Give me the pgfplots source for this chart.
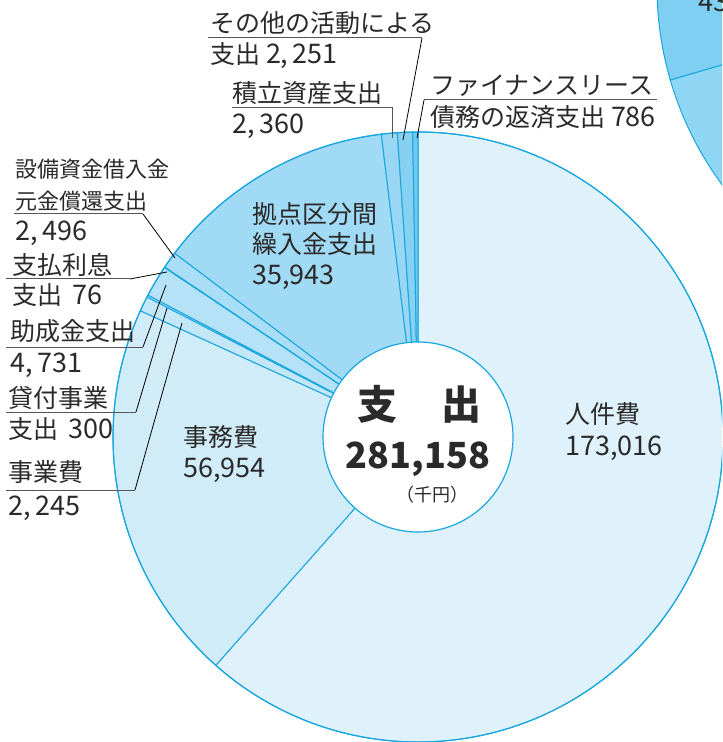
\documentclass[border=0pt]{standalone}
\usepackage{pgfplots}
\pgfplotsset{compat=1.18}
\usepackage{pgfplotstable}
\usepackage{fontspec}
\setmainfont{Noto Sans CJK JP}
\definecolor{edge}{HTML}{1AA7E0}
\definecolor{txt}{HTML}{2A2A2A}
\definecolor{uline}{HTML}{555555}
\definecolor{c1}{HTML}{DFF2FB}
\definecolor{c2}{HTML}{D1ECF9}
\definecolor{c3}{HTML}{C4E7F8}
\definecolor{c4}{HTML}{BDE5F8}
\definecolor{c5}{HTML}{B5E2F7}
\definecolor{c6}{HTML}{B0E0F7}
\definecolor{c7}{HTML}{AADEF6}
\definecolor{c8}{HTML}{A1DAF5}
\definecolor{c9}{HTML}{98D6F3}
\definecolor{c10}{HTML}{86D0F2}
\definecolor{c11}{HTML}{6ECAF0}
\definecolor{p1}{HTML}{7ECFF2}
\definecolor{p2}{HTML}{8FD6F5}

\pgfplotstableread{
value color
173016 c1
56954 c2
2245 c3
300 c4
4731 c5
76 c6
2496 c7
35943 c8
2360 c9
2251 c10
786 c11
}\piedata

\newcommand\lf{\fontsize{12.5}{15}\selectfont}
\newcommand\nf{\fontsize{13.5}{15}\selectfont}
\newcommand\lab[3]{\node[anchor=base west, inner sep=0pt, text=txt, font=\lf] at (axis cs:#1,#2) {#3};}
\newcommand\labn[3]{\node[anchor=base west, inner sep=0pt, text=txt, font=\nf] at (axis cs:#1,#2) {#3};}
\newcommand\labs[3]{\node[anchor=base west, inner sep=0pt, text=txt, font=\fontsize{11}{13}\selectfont] at (axis cs:#1,#2) {#3};}

\begin{document}
\begin{tikzpicture}
\begin{axis}[x=0.5pt, y=0.5pt, xmin=0, xmax=722, ymin=0, ymax=742,
  y dir=reverse, hide axis, clip=true]
\coordinate (bl) at (rel axis cs:0,0);
\coordinate (tr) at (rel axis cs:1,1);
% second (partial) pie at top right
\fill[p2, draw=edge, line width=0.5pt] (axis cs:990,-13) -- +(196.2:166.5pt) arc[start angle=196.2, end angle=265, radius=166.5pt] -- cycle;
\fill[p1, draw=edge, line width=0.5pt] (axis cs:990,-13) -- +(130:166.5pt) arc[start angle=130, end angle=196.2, radius=166.5pt] -- cycle;
\node[anchor=base west, inner sep=0pt, text=txt, font=\nf] at (axis cs:698,12) {43,};
% main pie
\def\cumA{0}
\pgfplotsforeachungrouped \i in {0,...,10}{%
  \pgfplotstablegetelem{\i}{value}\of\piedata \let\v\pgfplotsretval
  \pgfplotstablegetelem{\i}{color}\of\piedata \let\col\pgfplotsretval
  \edef\sa{\fpeval{90-360*\cumA/281158}}%
  \edef\cumA{\fpeval{\cumA+\v}}%
  \edef\ea{\fpeval{90-360*\cumA/281158}}%
  \edef\tmp{\noexpand\fill[fill=\col, draw=edge, line width=0.5pt] (axis cs:418,437) -- +(\sa:152.5pt) arc[start angle=\sa, end angle=\ea, radius=152.5pt] -- cycle;}%
  \tmp
}
\draw[edge, line width=0.6pt] (axis cs:418,437) circle[radius=152.5pt];
\fill[white, draw=edge, line width=0.6pt] (axis cs:418,437) circle[radius=47.5pt];
% centre text
\node[anchor=base, inner sep=0pt, text=txt, font=\fontsize{20}{22}\bfseries] at (axis cs:419,419) {支\hspace{22pt}出};
\node[anchor=base, inner sep=0pt, text=txt, font=\fontsize{18}{20}\bfseries] at (axis cs:418,468) {281,158};
\node[anchor=base, inner sep=0pt, text=txt, font=\fontsize{9}{10}\selectfont] at (axis cs:432,501) {（千円）};
% inside labels
\lab{565}{423}{人件費}
\labn{565}{455}{173,016}
\lab{183}{446}{事務費}
\labn{183}{477}{56,954}
\lab{252}{224}{拠点区分間}
\lab{252}{254}{繰入金支出}
\labn{252}{285}{35,943}
% top labels
\lab{210}{33}{その他の活動による}
\lab{210}{64}{支出 {\nf 2,\,251}}
\draw[uline, line width=0.5pt] (axis cs:208,38) -- (axis cs:422,38);
\draw[black, line width=0.4pt] (axis cs:422,38) -- (axis cs:403,140);
\lab{232}{103}{積立資産支出}
\labn{232}{134}{2,\,360}
\draw[uline, line width=0.5pt] (axis cs:232,108) -- (axis cs:392,108) -- (axis cs:392,138);
\lab{430}{95}{ファイナンスリース}
\lab{430}{127}{債務の返済支出 {\nf 786}}
\draw[uline, line width=0.5pt] (axis cs:657,100) -- (axis cs:424,100);
\draw[black, line width=0.4pt] (axis cs:424,100) -- (axis cs:417,138);
% left labels
\labs{15}{178}{設備資金借入金}
\labs{15}{210}{元金償還支出}
\draw[uline, line width=0.5pt] (axis cs:14,214) -- (axis cs:143,214);
\draw[black, line width=0.4pt] (axis cs:143,214) -- (axis cs:175,258);
\labn{15}{241}{2,\,496}
\lab{12}{275}{支払利息}
\draw[uline, line width=0.5pt] (axis cs:6,279) -- (axis cs:130,279);
\draw[black, line width=0.4pt] (axis cs:130,279) -- (axis cs:167,272);
\lab{12}{305}{支出\hspace{5pt}{\nf 76}}
\lab{10}{341}{助成金支出}
\draw[uline, line width=0.5pt] (axis cs:6,347) -- (axis cs:143,347);
\draw[black, line width=0.4pt] (axis cs:143,347) -- (axis cs:166,285);
\labn{10}{372}{4,\,731}
\lab{8}{407}{貸付事業}
\draw[uline, line width=0.5pt] (axis cs:6,412) -- (axis cs:136,412);
\draw[black, line width=0.4pt] (axis cs:136,412) -- (axis cs:167,308);
\lab{8}{438}{支出\hspace{5pt}{\nf 300}}
\lab{8}{481}{事業費}
\draw[uline, line width=0.5pt] (axis cs:6,490) -- (axis cs:135,490);
\draw[black, line width=0.4pt] (axis cs:135,490) -- (axis cs:182,323);
\labn{8}{515}{2,\,245}
\end{axis}
\pgfresetboundingbox
\path[use as bounding box] (bl) rectangle (tr);
\end{tikzpicture}
\end{document}
